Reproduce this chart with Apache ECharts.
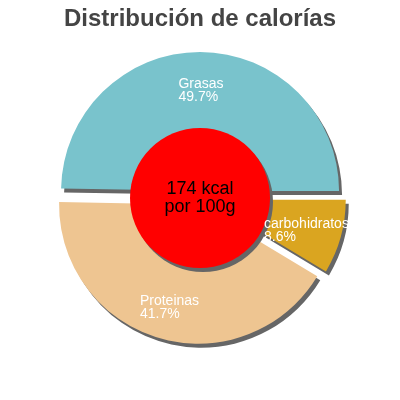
<!DOCTYPE html>
<html>
<head>
<meta charset="utf-8">
<script src="https://cdn.jsdelivr.net/npm/echarts@6/dist/echarts.min.js"></script>
<style>
  html, body { margin: 0; padding: 0; background: #fff; }
  #chart { width: 400px; height: 400px; }
</style>
</head>
<body>
<div id="chart"></div>
<script>
var titleText = 'Distribución de calorías';
var categories = ['Grasas', 'Proteinas', 'carbohidratos'];
var percents = [49.7, 41.7, 8.6];
var energyLines = ['174 kcal', 'por 100g'];

(function() {
  var colors = ['#79c3cc', '#eec591', '#daa520'];
  var font = '"Liberation Sans", Arial, sans-serif';
  var shadow = {
    shadowColor: '#666666',
    shadowBlur: 0,
    shadowOffsetX: 3,
    shadowOffsetY: 4
  };

  var chart = echarts.init(document.getElementById('chart'), null, { renderer: 'canvas' });

  var slices = categories.map(function(name, i) {
    return {
      name: name,
      value: percents[i],
      selected: true,
      itemStyle: Object.assign({ color: colors[i] }, shadow)
    };
  });

  chart.setOption({
    animation: false,
    title: {
      text: titleText,
      left: 'center',
      top: 2,
      textStyle: {
        fontFamily: font,
        fontSize: 24,
        fontWeight: 'bold',
        color: '#444444'
      }
    },
    series: [
      {
        type: 'pie',
        z: 2,
        center: [200, 198],
        radius: [62, 139],
        startAngle: 0,
        clockwise: false,
        selectedMode: 'multiple',
        selectedOffset: 7,
        silent: true,
        data: slices,
        label: {
          show: true,
          position: 'inside',
          align: 'center',
          padding: [6, 0, 0, 0],
          formatter: function(p) {
            return '{a|' + p.name + '}\n{a|' + p.value + '%}';
          },
          rich: {
            a: {
              align: 'left',
              color: '#ffffff',
              fontFamily: font,
              fontSize: 14,
              lineHeight: 13
            }
          }
        },
        labelLine: { show: false }
      },
      {
        type: 'pie',
        z: 2,
        center: [200, 198],
        radius: [0, 70],
        silent: true,
        selectedMode: 'single',
        selectedOffset: 0,
        data: [{
          name: 'energy',
          value: 1,
          selected: true,
          itemStyle: Object.assign({ color: '#ff0000' }, shadow)
        }],
        label: {
          show: true,
          position: 'center',
          padding: [4, 0, 0, 0],
          formatter: energyLines.join('\n'),
          color: '#000000',
          fontFamily: font,
          fontSize: 18,
          lineHeight: 18
        },
        labelLine: { show: false }
      }
    ]
  });
})();
</script>
</body>
</html>
